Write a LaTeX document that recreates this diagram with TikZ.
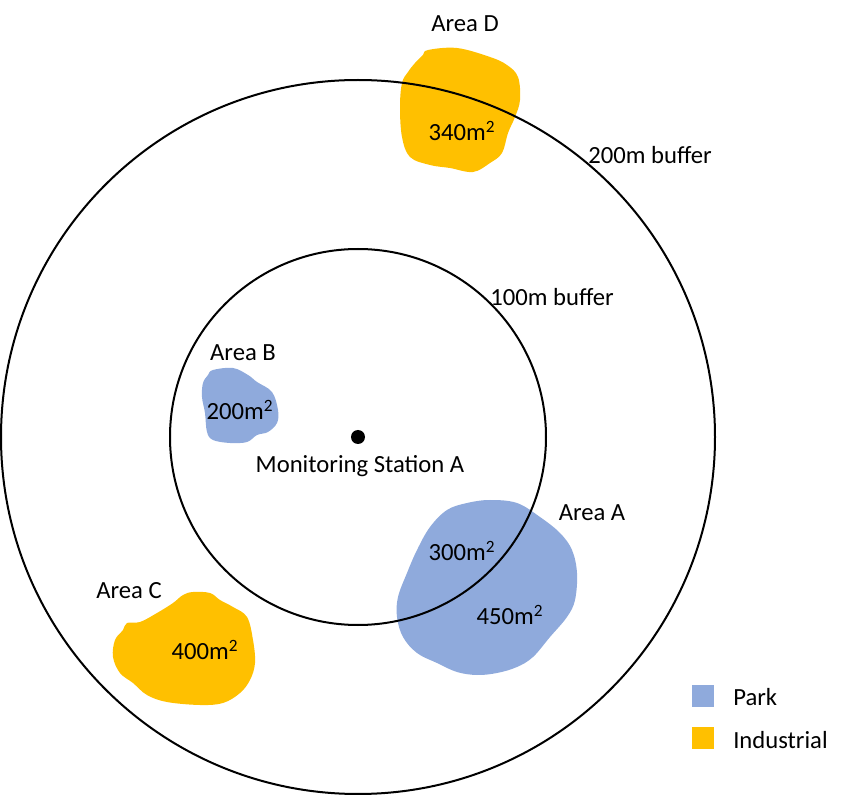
\documentclass[tikz,border=0pt]{standalone}
\usepackage{fontspec}
\setmainfont{Carlito}
\definecolor{parkblue}{HTML}{8FAADC}
\definecolor{industrialgold}{HTML}{FFC000}

\begin{document}
\begin{tikzpicture}[
    x=0.75pt, y=-0.75pt,
    every node/.style={font=\fontsize{18.5}{22}\selectfont, inner sep=0pt},
    buffer/.style={draw=black, line width=1.5pt},
    park/.style={fill=parkblue},
    industrial/.style={fill=industrialgold},
    keybox/.style={minimum size=16.5pt}
]
\useasboundingbox (0,0) rectangle (844,795);

% areas
\fill[industrial] plot[smooth cycle, tension=0.6] coordinates {
  (428,50) (457,48) (490,57) (507,65) (518,77) (520,100) (515,117) (508,133)
  (502,153) (490,163) (473,172) (450,168) (430,165) (410,157) (402,137)
  (400,107) (402,83) (408,72) (415,63) (423,55)};
\fill[park] plot[smooth cycle, tension=0.6] coordinates {
  (213,370) (233,368) (248,375) (257,382) (272,392) (278,410) (277,423)
  (268,432) (257,435) (247,442) (230,443) (213,440) (207,432) (205,413)
  (202,397) (203,383) (208,375)};
\fill[park] plot[smooth cycle, tension=0.6] coordinates {
  (447,510) (467,503) (490,500) (517,503) (540,517) (560,533) (572,550)
  (577,573) (575,600) (567,617) (550,637) (533,657) (517,667) (497,673)
  (477,675) (457,672) (437,663) (417,653) (403,637) (397,617) (398,597)
  (407,573) (417,550) (430,527)};
\fill[industrial] plot[smooth cycle, tension=0.6] coordinates {
  (193,592) (210,593) (220,600) (233,607) (247,617) (253,640) (255,663)
  (250,680) (240,693) (223,703) (200,705) (167,702) (147,695) (133,683)
  (120,673) (113,657) (115,640) (123,630) (127,623) (140,622) (157,613)
  (173,603) (183,595)};

% buffers
\draw[buffer] (358,437) circle[radius=357];
\draw[buffer] (358,437) circle[radius=188];
\fill (358,437) circle[radius=7];

% labels
\node (station) at (360,466) {Monitoring Station A};
\node (buf200) at (650,155) {200m buffer};
\node (buf100) at (552,297) {100m buffer};
\node (areaD) at (465,24) {Area D};
\node (sizeD) at (462,131) {340m\textsuperscript{2}};
\node (areaB) at (243,353) {Area B};
\node (sizeB) at (240,410) {200m\textsuperscript{2}};
\node (areaA) at (592,513) {Area A};
\node (sizeAin) at (462,551) {300m\textsuperscript{2}};
\node (sizeAout) at (510,615) {450m\textsuperscript{2}};
\node (areaC) at (129,591) {Area C};
\node (sizeC) at (205,650) {400m\textsuperscript{2}};

% legend
\node[keybox, park] (keypark) at (703,696) {};
\node[keybox, industrial] (keyind) at (703,738) {};
\node[anchor=west] (txtpark) at (733,697) {Park};
\node[anchor=west] (txtind) at (733,740) {Industrial};
\end{tikzpicture}
\end{document}
